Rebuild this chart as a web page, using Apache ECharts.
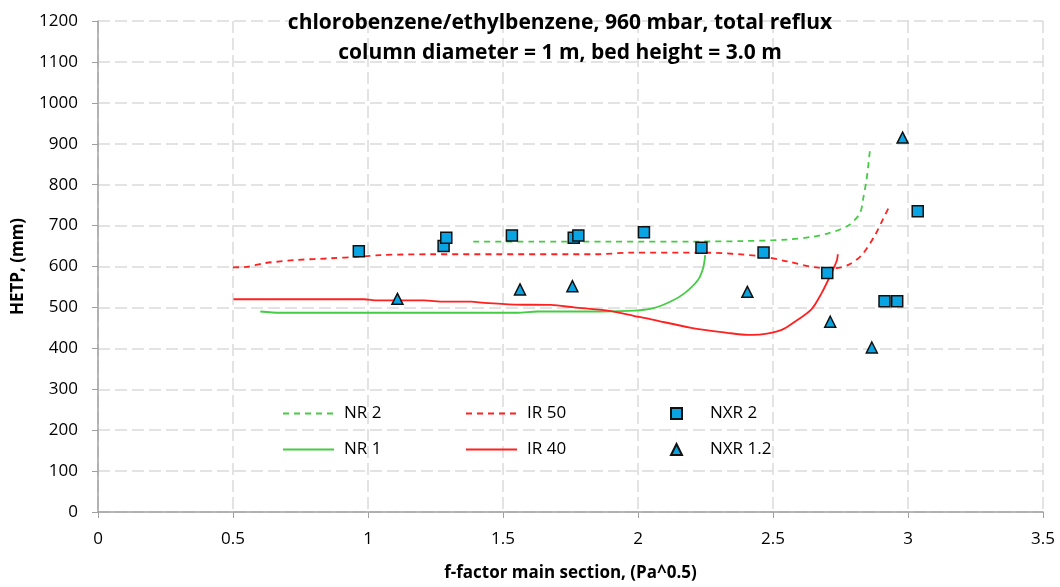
<!DOCTYPE html>
<html><head><meta charset="utf-8">
<script src="https://cdn.jsdelivr.net/npm/echarts@6/dist/echarts.min.js"></script>
<style>html,body{margin:0;padding:0;background:#fff}#c{width:1060px;height:587px}</style>
</head><body><div id="c"></div>
<script>
const titleLines = ['chlorobenzene/ethylbenzene, 960 mbar, total reflux', 'column diameter = 1 m, bed height = 3.0 m'];
const xName = 'f-factor main section, (Pa^0.5)';
const yName = 'HETP, (mm)';

const nr2X = [1.39, 1.60, 1.90, 2.20, 2.38, 2.556, 2.65, 2.705, 2.75, 2.785, 2.822, 2.834, 2.847, 2.859];
const nr2Y = [661, 661, 661, 661, 662, 666, 673, 681, 691, 703, 730, 766, 815, 884];

const ir50X = [0.50, 0.552, 0.614, 0.737, 0.861, 0.966, 1.047, 1.232, 1.48, 1.851, 1.975, 2.235, 2.457, 2.556, 2.668, 2.73, 2.779, 2.829, 2.878, 2.909, 2.934];
const ir50Y = [598, 599, 608, 616, 620, 624, 628, 630, 630, 630, 634, 634, 625, 612, 597, 596, 604, 628, 677, 718, 751];

const nr1X = [0.601, 0.676, 1.0, 1.554, 1.628, 1.863, 1.987, 2.061, 2.123, 2.173, 2.222, 2.241, 2.249];
const nr1Y = [490, 487, 487, 487, 490, 490, 492, 499, 515, 535, 567, 596, 628];

const ir40X = [0.502, 0.985, 1.035, 1.208, 1.282, 1.381, 1.43, 1.542, 1.678, 1.764, 1.888, 1.987, 2.049, 2.197, 2.33, 2.408, 2.457, 2.532, 2.581, 2.643, 2.68, 2.711, 2.73, 2.737, 2.74];
const ir40Y = [520, 520, 517, 517, 514, 514, 511, 507, 506, 500, 492, 479, 471, 450, 438, 433, 434, 445, 465, 496, 535, 576, 604, 616, 630];

const nxr2X = [0.966, 1.28, 1.29, 1.533, 1.762, 1.779, 2.022, 2.235, 2.465, 2.701, 2.913, 2.96, 3.036];
const nxr2Y = [637, 650, 670, 676, 670, 676, 684, 646, 634, 584, 515, 515, 735];

const nxr12X = [1.109, 1.563, 1.757, 2.405, 2.712, 2.866, 2.98];
const nxr12Y = [521, 544, 552, 538, 465, 402, 915];

const seriesNames = ['NR 2', 'NR 1', 'IR 50', 'IR 40', 'NXR 2', 'NXR 1.2'];

const zip = (xs, ys) => xs.map((x, i) => [x, ys[i]]);
const FONT = '"Open Sans", sans-serif';
const GREEN = '#44cc44', RED = '#ff2020', BLUE = '#08a4e4';
const hideSym = {color: 'rgba(0,0,0,0)', borderColor: 'rgba(0,0,0,0)', borderWidth: 0, opacity: 0};

const chart = echarts.init(document.getElementById('c'), null, {renderer: 'canvas'});
const legendText = (pad) => ({fontFamily: FONT, fontSize: 17, lineHeight: 14, color: '#000', padding: [0, 0, 0, pad]});
chart.setOption({
  animation: false,
  backgroundColor: '#fff',
  title: {
    text: titleLines.join('\n'), left: 555, textAlign: 'center', top: 3,
    textStyle: {fontFamily: FONT, fontWeight: 'bold', fontSize: 21, lineHeight: 30, color: '#000'}
  },
  grid: {left: 98, right: 17, top: 21, bottom: 73, containLabel: false},
  legend: [
    {orient: 'vertical', left: 277, top: 400, itemWidth: 51, itemHeight: 14, itemGap: 19, selectedMode: false,
      textStyle: legendText(5),
      data: [{name: 'NR 2', itemStyle: hideSym}, {name: 'NR 1', itemStyle: hideSym}]},
    {orient: 'vertical', left: 460, top: 400, itemWidth: 51, itemHeight: 14, itemGap: 19, selectedMode: false,
      textStyle: legendText(5),
      data: [{name: 'IR 50', itemStyle: hideSym}, {name: 'IR 40', itemStyle: hideSym}]},
    {orient: 'vertical', left: 665, top: 400, itemWidth: 11, itemHeight: 11, itemGap: 19, selectedMode: false,
      textStyle: legendText(23),
      data: ['NXR 2', 'NXR 1.2']}
  ],
  xAxis: {
    type: 'value', min: 0, max: 3.5, interval: 0.5,
    name: xName, nameLocation: 'middle', nameGap: 53,
    nameTextStyle: {fontFamily: FONT, fontWeight: 'bold', fontSize: 17, color: '#000'},
    axisLine: {show: true, onZero: false, lineStyle: {color: '#a0a0a0', width: 1.5}},
    axisTick: {show: true, length: 6, lineStyle: {color: '#a0a0a0'}},
    axisLabel: {fontFamily: FONT, fontSize: 17, color: '#000', margin: 19},
    splitLine: {show: true, lineStyle: {color: '#dadada', type: [12, 5], width: 1.5}}
  },
  yAxis: {
    type: 'value', min: 0, max: 1200, interval: 100,
    name: yName, nameLocation: 'middle', nameGap: 71, nameRotate: 90,
    nameTextStyle: {fontFamily: FONT, fontWeight: 'bold', fontSize: 17, color: '#000'},
    axisLine: {show: true, lineStyle: {color: '#a0a0a0', width: 1.5}},
    axisTick: {show: true, length: 6, lineStyle: {color: '#a0a0a0'}},
    axisLabel: {fontFamily: FONT, fontSize: 17, color: '#000', margin: 20, formatter: v => String(v)},
    splitLine: {show: true, lineStyle: {color: '#dadada', type: [12, 5], width: 1.5}}
  },
  series: [
    {name: seriesNames[0], type: 'line', data: zip(nr2X, nr2Y), symbol: 'none', smooth: 0.3,
      lineStyle: {color: GREEN, width: 1.8, type: [6, 5]}, itemStyle: {color: GREEN}, z: 3},
    {name: seriesNames[1], type: 'line', data: zip(nr1X, nr1Y), symbol: 'none', smooth: 0.3,
      lineStyle: {color: GREEN, width: 1.8}, itemStyle: {color: GREEN}, z: 3},
    {name: seriesNames[2], type: 'line', data: zip(ir50X, ir50Y), symbol: 'none', smooth: 0.3,
      lineStyle: {color: RED, width: 1.8, type: [6, 5]}, itemStyle: {color: RED}, z: 3},
    {name: seriesNames[3], type: 'line', data: zip(ir40X, ir40Y), symbol: 'none', smooth: 0.3,
      lineStyle: {color: RED, width: 1.8}, itemStyle: {color: RED}, z: 3},
    {name: seriesNames[4], type: 'scatter', data: zip(nxr2X, nxr2Y), symbol: 'rect', symbolSize: 11,
      itemStyle: {color: BLUE, borderColor: '#111', borderWidth: 1.5, opacity: 1}, z: 5},
    {name: seriesNames[5], type: 'scatter', data: zip(nxr12X, nxr12Y), symbol: 'triangle', symbolSize: 11,
      itemStyle: {color: BLUE, borderColor: '#111', borderWidth: 1.5, opacity: 1}, z: 5}
  ]
});
</script>
</body></html>
